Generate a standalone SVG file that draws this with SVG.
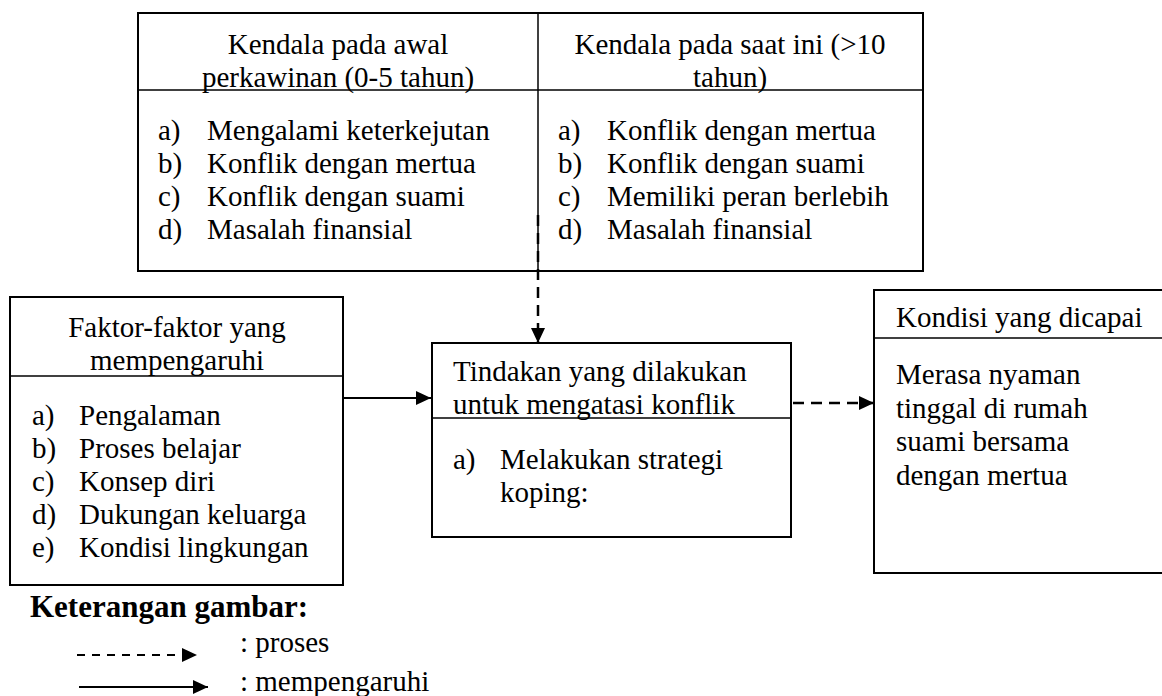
<svg xmlns="http://www.w3.org/2000/svg" width="1162" height="696" viewBox="0 0 1162 696">
<style>
text{font-family:"Liberation Serif","Times New Roman",serif;font-size:29px;fill:#000}
.c{text-anchor:middle}
.b{font-weight:bold;font-size:31px}
.box{fill:#fff;stroke:#000;stroke-width:2}
.div{stroke:#000;stroke-width:1.5;fill:none}
.solid{stroke:#000;stroke-width:2;fill:none}
.dash{stroke:#000;stroke-width:2.5;fill:none;stroke-dasharray:11 7}
.dash2{stroke:#000;stroke-width:2;fill:none;stroke-dasharray:8 7}
</style>
<defs>
<marker id="ah" markerUnits="userSpaceOnUse" markerWidth="16" markerHeight="14" refX="15" refY="7" orient="auto">
<path d="M0,0 L15,7 L0,14 Z" fill="#000"/>
</marker>
</defs>
<rect width="1162" height="696" fill="#fff"/>

<g id="kendala">
<rect class="box" x="138" y="13" width="785" height="258"/>
<line class="div" x1="538" y1="13" x2="538" y2="271"/>
<line class="div" x1="138" y1="90" x2="923" y2="90"/>
<text class="c" x="338" y="54">Kendala pada awal</text>
<text class="c" x="338" y="87">perkawinan (0-5 tahun)</text>
<text x="158" y="140">a)</text><text x="207" y="140">Mengalami keterkejutan</text>
<text x="158" y="173">b)</text><text x="207" y="173">Konflik dengan mertua</text>
<text x="158" y="206">c)</text><text x="207" y="206">Konflik dengan suami</text>
<text x="158" y="239">d)</text><text x="207" y="239">Masalah finansial</text>
<text class="c" x="730" y="54">Kendala pada saat ini (&gt;10</text>
<text class="c" x="730" y="87">tahun)</text>
<text x="558" y="140">a)</text><text x="607" y="140">Konflik dengan mertua</text>
<text x="558" y="173">b)</text><text x="607" y="173">Konflik dengan suami</text>
<text x="558" y="206">c)</text><text x="607" y="206">Memiliki peran berlebih</text>
<text x="558" y="239">d)</text><text x="607" y="239">Masalah finansial</text>
</g>

<g id="faktor">
<rect class="box" x="10" y="297" width="333" height="288"/>
<line class="div" x1="10" y1="376" x2="343" y2="376"/>
<text class="c" x="177" y="337">Faktor-faktor yang</text>
<text class="c" x="177" y="370">mempengaruhi</text>
<text x="32" y="425">a)</text><text x="79" y="425">Pengalaman</text>
<text x="32" y="458">b)</text><text x="79" y="458">Proses belajar</text>
<text x="32" y="491">c)</text><text x="79" y="491">Konsep diri</text>
<text x="32" y="524">d)</text><text x="79" y="524">Dukungan keluarga</text>
<text x="32" y="557">e)</text><text x="79" y="557">Kondisi lingkungan</text>
</g>

<g id="tindakan">
<rect class="box" x="432" y="343" width="359" height="194"/>
<line class="div" x1="432" y1="418" x2="791" y2="418"/>
<text x="453" y="381">Tindakan yang dilakukan</text>
<text x="453" y="414">untuk mengatasi konflik</text>
<text x="453" y="469">a)</text><text x="500" y="469">Melakukan strategi</text>
<text x="500" y="502">koping:</text>
</g>

<g id="kondisi">
<rect class="box" x="874" y="290" width="300" height="283"/>
<line class="div" x1="874" y1="338" x2="1162" y2="338"/>
<text x="896" y="327">Kondisi yang dicapai</text>
<text x="896" y="384">Merasa nyaman</text>
<text x="896" y="418">tinggal di rumah</text>
<text x="896" y="451">suami bersama</text>
<text x="896" y="485">dengan mertua</text>
</g>

<g id="connectors">
<line class="dash" x1="538" y1="215" x2="538" y2="343" marker-end="url(#ah)"/>
<line class="solid" x1="343" y1="398" x2="431" y2="398" marker-end="url(#ah)"/>
<line class="dash" x1="793" y1="403" x2="874" y2="403" marker-end="url(#ah)"/>
</g>

<g id="legend">
<text class="b" x="30" y="617">Keterangan gambar:</text>
<line class="dash2" x1="77" y1="655" x2="197" y2="655" marker-end="url(#ah)"/>
<text x="240" y="652">: proses</text>
<line class="solid" x1="79" y1="687" x2="208" y2="687" marker-end="url(#ah)"/>
<text x="240" y="691">: mempengaruhi</text>
</g>
</svg>
